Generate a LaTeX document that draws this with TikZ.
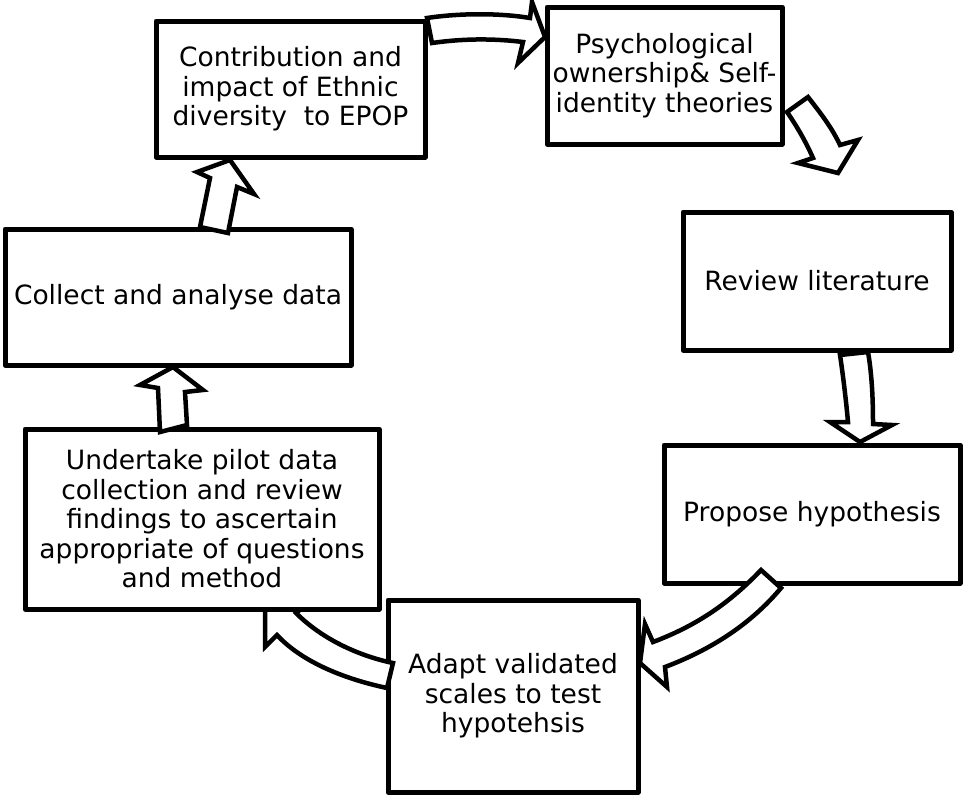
\documentclass[tikz,border=0pt]{standalone}
\usepackage{fontspec}
\setmainfont{DejaVu Sans}
\begin{document}
\begin{tikzpicture}[x=1pt,y=-1pt,
  stage/.style={draw, line width=5pt, fill=white, inner sep=0pt, outer sep=0pt,
    align=center, line join=round, font=\fontsize{26.5}{29.5}\selectfont},
  blockarrow/.style={draw, fill=white, line width=4.5pt, line join=miter, miter limit=6}]
\useasboundingbox (0,0) rectangle (965,796);

% stages of the research cycle
\node[stage, minimum width=269pt, minimum height=136pt] (contrib) at (290.5,89)
  {Contribution and\\impact of Ethnic\\diversity\ \ to EPOP};
\node[stage, minimum width=235pt, minimum height=137pt] (psych) at (664.5,75.5)
  {Psychological\\ownership\& Self-\\identity theories};
\node[stage, minimum width=268pt, minimum height=138pt] (review) at (817,281)
  {Review literature};
\node[stage, minimum width=296pt, minimum height=138pt] (propose) at (812,514)
  {Propose hypothesis};
\node[stage, minimum width=250pt, minimum height=192pt] (adapt) at (513,696)
  {Adapt validated\\scales to test\\hypotehsis};
\node[stage, minimum width=346pt, minimum height=136pt] (collect) at (178,297)
  {Collect and analyse data};

% adapt -> undertake (its head runs under the undertake box)
\begin{scope}[shift={(adapt.west)}]
  \draw[blockarrow] (-1,-8) .. controls (-48,-18) and (-88,-36) .. (-111,-61)
    -- (-123,-49) -- (-123,-94) -- (-78,-94) -- (-92,-83)
    .. controls (-68,-59) and (-33,-41) .. (5,-33) -- cycle;
\end{scope}

\node[stage, minimum width=354pt, minimum height=180pt] (undertake) at (202,519)
  {Undertake pilot data\\collection and review\\findings to ascertain\\appropriate of questions\\and method};

% contrib -> psych
\begin{scope}[shift={(contrib.north east)}]
  \draw[blockarrow] (2,-3) .. controls (35,-8) and (75,-8) .. (105,-3)
    -- (107,-19) -- (120,16) -- (93,42) -- (98,21)
    .. controls (65,17) and (35,18) .. (7,22) -- cycle;
\end{scope}

% psych -> review
\begin{scope}[shift={(psych.south east)}]
  \draw[blockarrow] (26,-47) .. controls (40,-29) and (50,-16) .. (58,1)
    -- (76,-4) -- (56,29) -- (16,19) -- (31,14)
    .. controls (23,-4) and (14,-19) .. (5,-32) -- cycle;
\end{scope}

% review -> propose
\begin{scope}[shift={(review.south)}]
  \draw[blockarrow] (23,5) -- (51,2) .. controls (55,25) and (56,50) .. (56,74)
    -- (75,75) -- (43,92) -- (13,72) -- (31,72)
    .. controls (29,50) and (26,25) .. (23,5) -- cycle;
\end{scope}

% propose -> adapt
\begin{scope}[shift={(propose.south)}]
  \draw[blockarrow] (-51,-13) .. controls (-87,25) and (-122,45) .. (-159,59)
    -- (-167,41) -- (-172,80) -- (-145,104) -- (-147,84)
    .. controls (-102,67) and (-62,42) .. (-31,5) -- cycle;
\end{scope}

% undertake -> collect
\begin{scope}[shift={(undertake.north)}]
  \draw[blockarrow] (-42,3) -- (-15,-4) -- (-17,-37) -- (1,-39) -- (-29,-62)
    -- (-62,-44) -- (-44,-41) -- cycle;
\end{scope}

% collect -> contrib
\begin{scope}[shift={(collect.north)}]
  \draw[blockarrow] (22,-2) -- (32,-51) -- (19,-57) -- (52,-69) -- (76,-35)
    -- (59,-42) -- (50,4) -- cycle;
\end{scope}
\end{tikzpicture}
\end{document}
